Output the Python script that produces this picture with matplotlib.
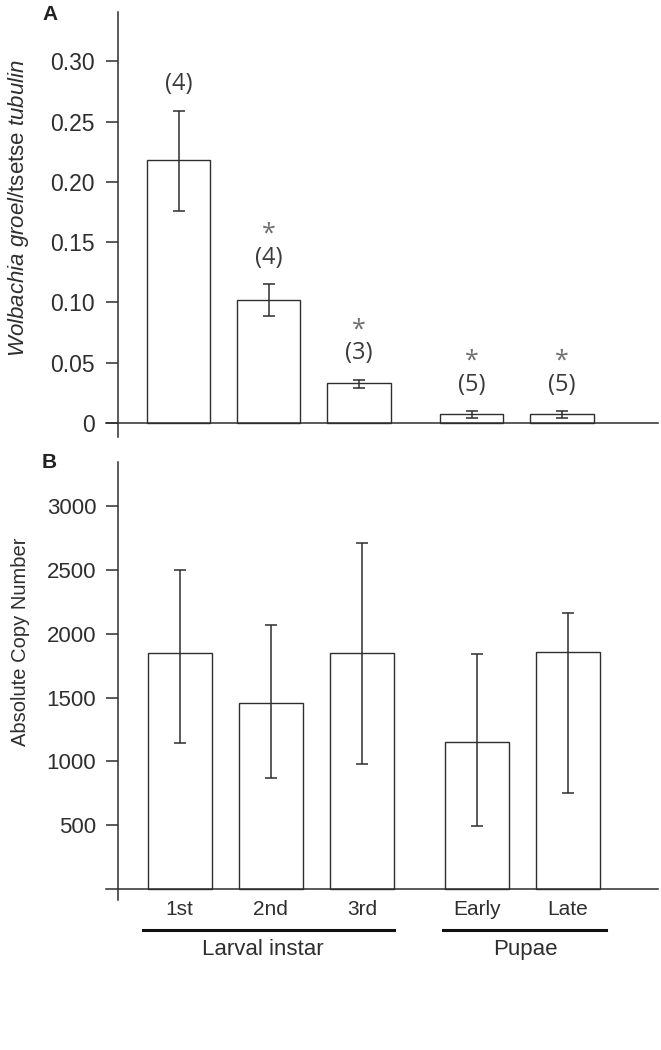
import matplotlib
matplotlib.use('Agg')
import matplotlib.pyplot as plt
import numpy as np

plt.rcParams['font.family'] = ['Liberation Sans', 'DejaVu Sans']
plt.rcParams['mathtext.fontset'] = 'custom'
plt.rcParams['mathtext.rm'] = 'Liberation Sans'
plt.rcParams['mathtext.it'] = 'Liberation Sans:italic'

# categories
stages = ['1st', '2nd', '3rd', 'Early', 'Late']
groups = ['Larval instar', 'Pupae']

# panel A: Wolbachia groel / tsetse tubulin
ratio_mean = [0.218, 0.102, 0.033, 0.0075, 0.0075]
ratio_hi = [0.259, 0.115, 0.036, 0.010, 0.010]
ratio_lo = [0.176, 0.089, 0.029, 0.004, 0.004]
n_samples = [4, 4, 3, 5, 5]
significant = [False, True, True, True, True]

# panel B: absolute copy number
copy_mean = [1850, 1458, 1850, 1152, 1857]
copy_hi = [2500, 2065, 2710, 1840, 2160]
copy_lo = [1144, 870, 980, 490, 752]

ink = '#2e2e2e'
pos = np.array([0, 1, 2, 3.25, 4.25])

fig = plt.figure(figsize=(6.61, 10.5), dpi=100)
axA = fig.add_axes([118/661, (1050-437)/1050, 540/661, 425/1050])
axB = fig.add_axes([118/661, 150/1050, 540/661, 438/1050])


def draw_bars(ax, mean, lo, hi):
    mean = np.array(mean); lo = np.array(lo); hi = np.array(hi)
    ax.bar(pos, mean, width=0.7, color='white', edgecolor=ink, linewidth=1.0, zorder=2)
    ax.errorbar(pos, mean, yerr=[mean - lo, hi - mean], fmt='none', ecolor=ink,
                elinewidth=1.1, capsize=4.3, capthick=1.1, zorder=3)
    for s in ['top', 'right', 'bottom']:
        ax.spines[s].set_visible(False)
    ax.spines['left'].set_linewidth(1.1)
    ax.spines['left'].set_color(ink)
    ax.axhline(0, xmin=-12/540, xmax=1, color=ink, lw=1.1, clip_on=False, zorder=4)
    ax.tick_params(axis='y', length=8.6, width=1.1, color=ink, labelcolor=ink)


# ---- panel A
draw_bars(axA, ratio_mean, ratio_lo, ratio_hi)
axA.set_xlim(-0.671, 5.314)
axA.set_ylim(-0.0116, 0.341)
yt = np.arange(0, 0.31, 0.05)
axA.set_yticks(yt, ['0'] + ['%.2f' % v for v in yt[1:]])
axA.tick_params(axis='y', pad=8, labelsize=16.5)
axA.set_xticks([])
axA.set_ylabel(r'$Wolbachia\ groel$/tsetse $tubulin$', fontsize=16, color=ink)
axA.yaxis.set_label_coords(-0.161, 0.539)

for i in range(len(stages)):
    axA.annotate('(%d)' % n_samples[i], (pos[i], ratio_hi[i]), xytext=(0, 19),
                 textcoords='offset points', ha='center', va='center',
                 family='Open Sans', fontsize=17, color='#3a3a3a')
    if significant[i]:
        axA.annotate('*', (pos[i], ratio_hi[i]), xytext=(0, 36),
                     textcoords='offset points', ha='center', va='center',
                     family='Open Sans', fontsize=18, color='#707070')

# ---- panel B
draw_bars(axB, copy_mean, copy_lo, copy_hi)
axB.set_xlim(-0.673, 5.235)
axB.set_ylim(-86, 3346)
axB.set_yticks(np.arange(500, 3001, 500))
axB.tick_params(axis='y', pad=7, labelsize=16)
axB.set_xticks(pos, stages)
axB.tick_params(axis='x', length=0, pad=0, labelsize=15, labelcolor=ink)
axB.set_ylabel('Absolute Copy Number', fontsize=14.5, color=ink)
axB.yaxis.set_label_coords(-0.163, 0.589)

tr = axB.get_xaxis_transform()
axB.plot([-0.40, 2.35], [-0.0685, -0.0685], transform=tr, clip_on=False, color='#111111', lw=2.2)
axB.plot([2.88, 4.67], [-0.0685, -0.0685], transform=tr, clip_on=False, color='#111111', lw=2.2)
axB.text(0.91, -0.112, groups[0], transform=tr, ha='center', va='center', fontsize=16, color=ink)
axB.text(3.78, -0.112, groups[1], transform=tr, ha='center', va='center', fontsize=16, color=ink)

fig.text(42/661, 1 - 15/1050, 'A', fontweight='bold', fontsize=15, va='center', color='#222222')
fig.text(42/661, 1 - 463/1050, 'B', fontweight='bold', fontsize=15, va='center', color='#222222')

plt.savefig('out.png', dpi=100)
